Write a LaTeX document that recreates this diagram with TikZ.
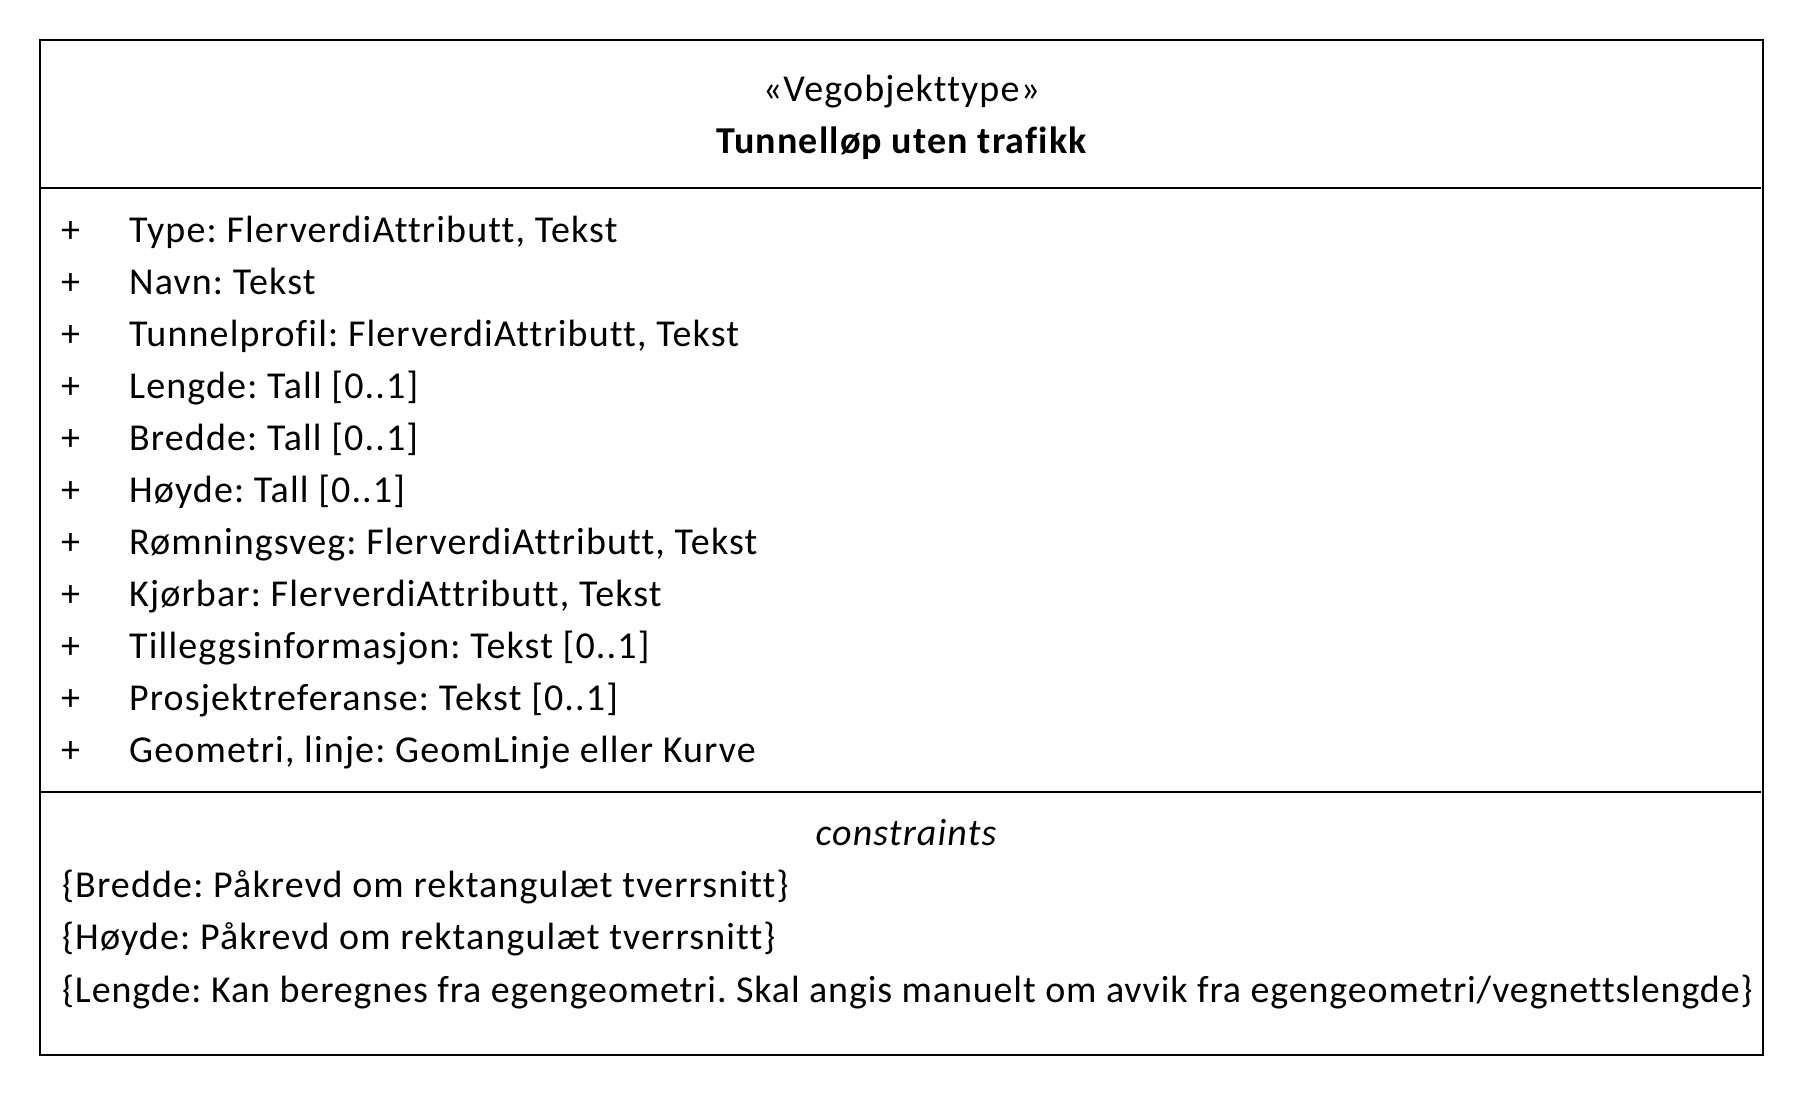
\documentclass[tikz,border=0pt]{standalone}
\usepackage{fontspec}
\setmainfont[Ligatures=CommonOff,LetterSpace=3.0]{Carlito}
\frenchspacing
\begin{document}
\frenchspacing
\begin{tikzpicture}[x=1pt,y=-1pt,
  txt/.style={inner sep=0pt, anchor=base west, font=\fontsize{38}{45}\selectfont},
  ctr/.style={inner sep=0pt, anchor=base, font=\fontsize{38}{45}\selectfont},
  frame/.style={line width=1.6pt, draw=black}]
\useasboundingbox (0,0) rectangle (1804,1096);
\draw[frame] (40,40) rectangle (1763,1055);
\draw[frame] (40,188) -- (1761,188);
\draw[frame] (40,792) -- (1761,792);
\node[ctr] (st) at (901.5,101.7) {«Vegobjekttype»};
\node[ctr, font=\fontsize{38}{45}\selectfont\bfseries] (ti) at (901.5,153.3) {Tunnelløp uten trafikk};
\foreach \t [count=\i from 0] in {
  {Type: FlerverdiAttributt, Tekst},
  {Navn: Tekst},
  {Tunnelprofil: FlerverdiAttributt, Tekst},
  {Lengde: Tall [0..1]},
  {Bredde: Tall [0..1]},
  {Høyde: Tall [0..1]},
  {Rømningsveg: FlerverdiAttributt, Tekst},
  {Kjørbar: FlerverdiAttributt, Tekst},
  {Tilleggsinformasjon: Tekst [0..1]},
  {Prosjektreferanse: Tekst [0..1]},
  {Geometri, linje: GeomLinje eller Kurve}} {
  \node[txt] (p\i) at (61,242+52*\i) {+};
  \node[txt] (a\i) at (129,242+52*\i) {\t};
}
\node[ctr, font=\fontsize{38}{45}\selectfont\itshape] (cn) at (906,845) {constraints};
\node[txt] (c1) at (62,897) {\{Bredde: Påkrevd om rektangulæt tverrsnitt\}};
\node[txt] (c2) at (62,949) {\{Høyde: Påkrevd om rektangulæt tverrsnitt\}};
\node[txt, font=\fontsize{38}{45}\selectfont\addfontfeatures{LetterSpace=2.3}] (c3) at (62,1002) {\{Lengde: Kan beregnes fra egengeometri. Skal angis manuelt om avvik fra egengeometri/vegnettslengde\}};
\end{tikzpicture}
\end{document}
